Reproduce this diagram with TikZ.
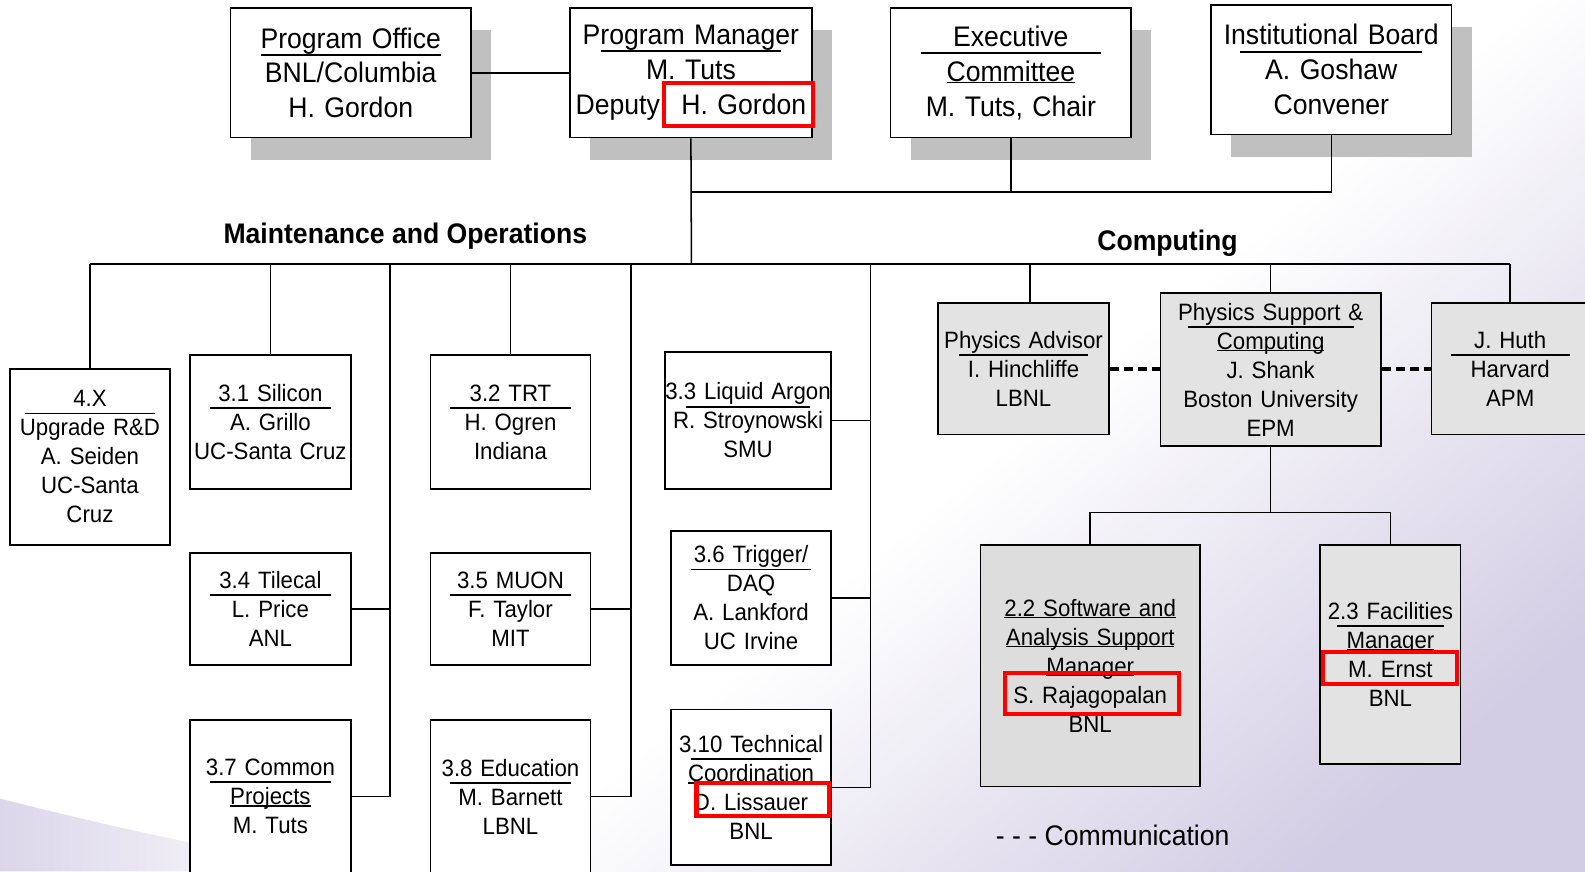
\documentclass[tikz,border=0pt]{standalone}
\usepackage{fontspec}
\setmainfont{Liberation Sans}[FakeStretch=0.94]
\usetikzlibrary{calc,shadows}
\definecolor{shadowgray}{HTML}{C0C0C0}
\definecolor{boxgray}{HTML}{E3E3E3}
\definecolor{boxgrayb}{HTML}{DDDDDD}
\definecolor{lav}{HTML}{D2CCE4}
\definecolor{lavlight}{HTML}{E8E5F1}
\pgfdeclareverticalshading{bgshade}{100bp}{color(0bp)=(lav); color(22bp)=(lav); color(33bp)=(lavlight); color(44bp)=(white); color(100bp)=(white)}
\newcommand\ulin[1]{\leavevmode\setbox0=\hbox{#1}\rlap{\rule[-2pt]{\wd0}{1.4pt}}\box0}
\newcommand\sepl[2]{\leavevmode\setbox0=\hbox{#1}\makebox[\wd0]{\hss\smash{\rule[-7.5pt]{#2pt}{1.8pt}}\hss}\llap{\box0}}
\tikzset{
  bx/.style 2 args={minimum width=#1pt, text width=#1pt, minimum height=#2pt},
  basebox/.style={draw, line width=1.6pt, inner sep=0pt, align=center},
  topbox/.style={basebox, fill=white, bx={238}{128}, font=\fontsize{28}{34.5}\selectfont,
    drop shadow={shadow xshift=20pt, shadow yshift=-22pt, fill=shadowgray, opacity=1}},
  wbox/.style={basebox, fill=white, font=\fontsize{23.4}{28.7}\selectfont},
  gbox/.style={basebox, fill=boxgray, font=\fontsize{23.4}{28.7}\selectfont},
  conn/.style={line width=1.5pt},
  comm/.style={line width=4pt, dash pattern=on 9pt off 5pt},
  hl/.style={draw=red, line width=4pt},
  sect/.style={font=\bfseries\fontsize{28}{30}\selectfont, anchor=base, inner sep=0pt},
}
\begin{document}
\begin{tikzpicture}[x=1pt,y=-1pt]
\useasboundingbox (0,0) rectangle (1568,862);
% background
\shade[shading=bgshade, shading angle=40] (0,0) rectangle (1568,862);
\shade[left color=lav!80!white, right color=white] (0,790) .. controls (110,818) and (220,842) .. (340,862) -- (0,862) -- cycle;

% top level
\node[topbox] (PO) at (347,72) {\sepl{Program Office}{178}\\BNL/Columbia\\H. Gordon};
\node[topbox, bx={239}{128}] (PM) at (683.5,72) {\sepl{Program Manager}{178}\\M. Tuts\\Deputy: H. Gordon};
\node[topbox] (EC) at (1000,72) {\sepl{Executive}{178}\\\ulin{Committee}\\M. Tuts, Chair};
\node[topbox] (IB) at (1317,69) {\sepl{Institutional Board}{180}\\A. Goshaw\\Convener};

% section titles
\node[sect] (MO) at (401,240.5) {Maintenance and Operations};
\node[sect] (CT) at (1155,248) {Computing};

% maintenance and operations boxes
\node[wbox, bx={158}{174}] (X4) at (89,452) {\sepl{4.X}{128}\\Upgrade R\&D\\A. Seiden\\UC-Santa\\Cruz};
\node[wbox, bx={159}{133}] (S31) at (267.5,417.5) {\sepl{3.1 Silicon}{119}\\A. Grillo\\UC-Santa Cruz};
\node[wbox, bx={158}{133}] (S32) at (505,417.5) {\sepl{3.2 TRT}{119}\\H. Ogren\\Indiana};
\node[wbox, bx={164}{136}] (S33) at (740,416) {\sepl{3.3 Liquid Argon}{123}\\R. Stroynowski\\SMU};
\node[wbox, bx={159}{111}] (S34) at (267.5,602.5) {\sepl{3.4 Tilecal}{119}\\L. Price\\ANL};
\node[wbox, bx={158}{111}] (S35) at (505,602.5) {\sepl{3.5 MUON}{119}\\F. Taylor\\MIT};
\node[wbox, bx={158}{133}] (S36) at (743,591.5) {\sepl{3.6 Trigger/}{119}\\DAQ\\A. Lankford\\UC Irvine};
\node[wbox, bx={159}{152}] (S37) at (267.5,788) {\sepl{3.7 Common}{120}\\\ulin{Projects}\\M. Tuts};
\node[wbox, bx={158}{152}] (S38) at (505,788) {\sepl{3.8 Education}{119}\\M. Barnett\\LBNL};
\node[wbox, bx={158}{154}] (S310) at (743,779) {\sepl{3.10 Technical}{119}\\\ulin{Coordination}\\D. Lissauer\\BNL};

% computing boxes
\node[gbox, bx={169}{130}] (PA) at (1012.5,365) {\sepl{Physics Advisor}{127}\\I. Hinchliffe\\LBNL};
\node[gbox, bx={218}{151}] (PS) at (1257,365.5) {\sepl{Physics Support \&}{164}\\\ulin{Computing}\\J. Shank\\Boston University\\EPM};
\node[gbox, bx={156}{130}] (JH) at (1494,365) {\sepl{J. Huth}{118}\\Harvard\\APM};
\node[gbox, fill=boxgrayb, bx={217}{239}] (S22) at (1078.5,658.5) {\ulin{2.2 Software and}\\\ulin{Analysis Support}\\\ulin{Manager}\\S. Rajagopalan\\BNL};
\node[gbox, bx={139}{217}] (S23) at (1375.5,647.5) {\sepl{2.3 Facilities}{105}\\\ulin{Manager}\\M. Ernst\\BNL};

% legend
\node[anchor=base west, inner sep=0pt, font=\fontsize{28}{30}\selectfont] (LEG) at (985,836) {- - - Communication};

% top connectors
\coordinate (eb) at (684,190);
\coordinate (bL) at (89,261);
\coordinate (bR) at (1494,261);
\coordinate (mb) at (684,261);
\draw[conn] (PO.east) -- (PM.west);
\draw[conn] (PM.south) -- (mb);
\draw[conn] (eb) -| (IB.south);
\draw[conn] (EC.south) -- (EC.south |- eb);
\draw[conn] (bL) -- (bR);

% M&O drops
\coordinate (t1) at (386,261);
\coordinate (t2) at (624,261);
\coordinate (t3) at (861,261);
\coordinate (pa) at (1019,261);
\draw[conn] (bL) -- (X4.north);
\draw[conn] (S31.north |- bL) -- (S31.north);
\draw[conn] (S32.north |- bL) -- (S32.north);
\draw[conn] (t1) |- (S37.east);
\draw[conn] (S34.east) -- (S34.east -| t1);
\draw[conn] (t2) |- (S38.east);
\draw[conn] (S35.east) -- (S35.east -| t2);
\draw[conn] (t3) |- (S310.east);
\draw[conn] (S33.east) -- (S33.east -| t3);
\draw[conn] (S36.east) -- (S36.east -| t3);

% computing drops
\draw[conn] (pa) -- (pa |- PA.north);
\draw[conn] (PS.north |- bL) -- (PS.north);
\draw[conn] (bR) -- (JH.north);
\draw[comm] (PA.east) -- (PA.east -| PS.west);
\draw[comm] (PS.east |- JH.west) -- (JH.west);
\coordinate (sb) at (1257,507);
\draw[conn] (PS.south) -- (sb);
\draw[conn] (S22.north) |- (sb) -| (S23.north);

% highlight boxes
\draw[hl] (657,82) rectangle (804,125);
\draw[hl] (689,775) rectangle (820,807);
\draw[hl] (994,666) rectangle (1166,706);
\draw[hl] (1309,645) rectangle (1441,677);
\end{tikzpicture}
\end{document}
